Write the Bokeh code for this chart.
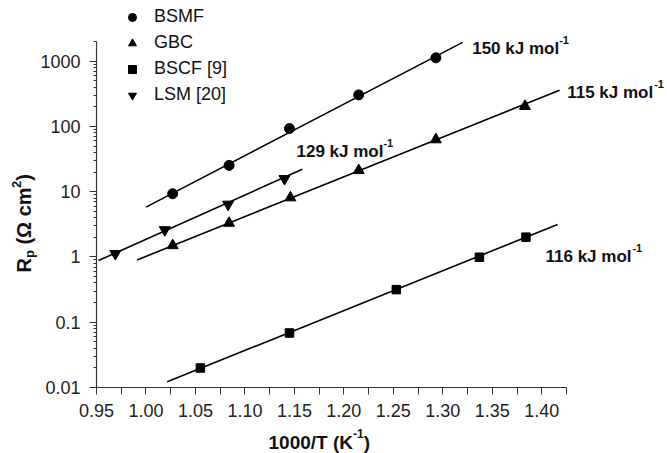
import math
from bokeh.plotting import figure
from bokeh.models import (FixedTicker, PrintfTickFormatter, CustomJSTickFormatter,
                          Label, Legend, LegendItem, Range1d)
from bokeh.embed import file_html
from bokeh.resources import INLINE

# ---------------- data ----------------
bsmf_x = [1.027, 1.084, 1.145, 1.215, 1.293]
bsmf_y = [9.3, 25.3, 92.7, 304, 1124]
gbc_x = [1.027, 1.084, 1.146, 1.215, 1.293, 1.383]
gbc_y = [1.5, 3.3, 8.1, 21.2, 62.8, 204]
bscf_x = [1.055, 1.145, 1.253, 1.337, 1.384]
bscf_y = [0.0199, 0.0684, 0.316, 0.99, 2.01]
lsm_x = [0.969, 1.019, 1.083, 1.140]
lsm_y = [1.12, 2.6, 6.4, 15.8]

# fitted Arrhenius lines (end points)
bsmf_fit_x = [1.000, 1.320]
bsmf_fit_y = [5.8, 1937]
gbc_fit_x = [0.991, 1.418]
gbc_fit_y = [0.90, 359]
bscf_fit_x = [1.0215, 1.416]
bscf_fit_y = [0.01225, 3.15]
lsm_fit_x = [0.952, 1.158]
lsm_fit_y = [0.88, 22]

series_names = ["BSMF", "GBC", "BSCF [9]", "LSM [20]"]
ea_labels = ["150 kJ mol", "115 kJ mol", "116 kJ mol", "129 kJ mol"]

x_ticks = [0.95, 1.00, 1.05, 1.10, 1.15, 1.20, 1.25, 1.30, 1.35, 1.40]
x_minor = [0.975, 1.025, 1.075, 1.125, 1.175, 1.225, 1.275, 1.325, 1.375, 1.425]
y_ticks = [0.01, 0.1, 1, 10, 100, 1000]
y_minor = [m * 10.0 ** k for k in range(-2, 3) for m in range(2, 10)] + [2000]

# axis extents
AX_X0, AX_X1 = 0.95, 1.425
AX_Y0, AX_Y1 = 0.01, 2000

# ---------------- layout ----------------
FONT = "Liberation Sans"
W, H = 667, 453
# pixel box of the drawn axes
LEFT, RIGHT_PX, TOP, BOTTOM_PX = 96, 566, 41, 387
KX = (RIGHT_PX - LEFT) / (AX_X1 - AX_X0)
KY = (BOTTOM_PX - TOP) / (math.log10(AX_Y1) - math.log10(AX_Y0))
SHIFT = 5  # compensation of the baseline placement of rendered labels


def px_x(px):
    return AX_X0 + (px - LEFT) / KX


def px_y(py):
    return 10 ** (math.log10(AX_Y1) - (py - TOP) / KY)


# approximate advance widths (em) for Liberation Sans Bold
WID = {c: 0.556 for c in "0123456789kJc"}
WID.update({" ": 0.278, "m": 0.889, "o": 0.611, "l": 0.278, "-": 0.333, "/": 0.278,
            "T": 0.611, "(": 0.333, ")": 0.333, "K": 0.722, "R": 0.722, "p": 0.611,
            "Ω": 0.768})


def twidth(s, size):
    return sum(WID.get(c, 0.6) for c in s) * size


p = figure(width=W, height=H,
           x_range=Range1d(px_x(0), px_x(W)), y_range=Range1d(px_y(H), px_y(0)),
           y_axis_type="log", output_backend="svg", toolbar_location=None,
           min_border=0)
p.outline_line_color = None
p.xgrid.visible = False
p.ygrid.visible = False
p.background_fill_color = "white"
p.border_fill_color = "white"

AX = "#333333"
for ax in (p.xaxis[0], p.yaxis[0]):
    ax.axis_line_color = AX
    ax.axis_line_width = 1.2
    ax.major_tick_line_color = AX
    ax.minor_tick_line_color = AX
    ax.major_tick_in = 0
    ax.minor_tick_in = 0
    ax.major_label_text_font = FONT
    ax.major_label_text_font_size = "18px"
    ax.major_label_text_color = "#222222"
    ax.axis_label = None

p.xaxis.fixed_location = AX_Y0
p.xaxis.bounds = (AX_X0, AX_X1)
p.xaxis.ticker = FixedTicker(ticks=x_ticks, minor_ticks=x_minor)
p.xaxis.formatter = PrintfTickFormatter(format="%.2f")
p.xaxis.major_tick_out = 7
p.xaxis.minor_tick_out = 7
p.xaxis.major_label_standoff = 9

p.yaxis.fixed_location = AX_X0
p.yaxis.bounds = (AX_Y0, AX_Y1)
p.yaxis.ticker = FixedTicker(ticks=y_ticks, minor_ticks=y_minor)
p.yaxis.formatter = CustomJSTickFormatter(code="return String(tick);")
p.yaxis.major_tick_out = 7
p.yaxis.minor_tick_out = 3
p.yaxis.major_label_standoff = 9

# ---------------- glyphs ----------------
LW = 1.6
for fx, fy in [(bsmf_fit_x, bsmf_fit_y), (gbc_fit_x, gbc_fit_y),
               (bscf_fit_x, bscf_fit_y), (lsm_fit_x, lsm_fit_y)]:
    p.line(fx, fy, line_color="black", line_width=LW)

r_bsmf = p.scatter(bsmf_x, bsmf_y, marker="circle", size=10, color="black")
r_gbc = p.scatter(gbc_x, gbc_y, marker="triangle", size=11, color="black")
r_bscf = p.scatter(bscf_x, bscf_y, marker="square", size=8.5, color="black")
r_lsm = p.scatter(lsm_x, lsm_y, marker="inverted_triangle", size=11, color="black")

legend = Legend(items=[LegendItem(label=n, renderers=[r]) for n, r in
                       zip(series_names, [r_bsmf, r_gbc, r_bscf, r_lsm])],
                location=(122, H - 105), orientation="vertical",
                label_text_font=FONT, label_text_font_size="18px",
                label_text_color="#111111", glyph_width=20, glyph_height=20,
                label_height=20, spacing=5, padding=0, margin=0,
                label_standoff=12, border_line_color=None,
                background_fill_alpha=0)
p.add_layout(legend)


# ---------------- rich text helpers ----------------
def _piece(txt, size, bold, **kw):
    return Label(text=txt, text_font=FONT, text_font_size=f"{size}px",
                 text_font_style="bold" if bold else "normal",
                 text_color="#111111", text_baseline="alphabetic",
                 text_align="left", **kw)


def rich_h(parts, left_px, base_px):
    """horizontal text made of (text, size, bold, raise_px) pieces"""
    x = px_x(left_px)
    y = px_y(base_px - SHIFT)
    off = 0.0
    for txt, size, bold, rise in parts:
        lead = len(txt) - len(txt.lstrip(" "))
        off += lead * WID[" "] * size
        txt = txt.lstrip(" ")
        p.add_layout(_piece(txt, size, bold, x=x, y=y, x_offset=off, y_offset=rise))
        off += twidth(txt, size)


def rich_v(parts, base_px, bottom_px):
    """text rotated 90 deg (reading upward)"""
    x = px_x(base_px - SHIFT)
    y = px_y(bottom_px)
    off = 0.0
    for txt, size, bold, rise in parts:
        lead = len(txt) - len(txt.lstrip(" "))
        off += lead * WID[" "] * size
        txt = txt.lstrip(" ")
        p.add_layout(_piece(txt, size, bold, x=x, y=y, x_offset=-rise, y_offset=off,
                            angle=math.pi / 2))
        off += twidth(txt, size)


# activation energy annotations
ann_pos = [(471.7, 53.3), (566.7, 97.3), (545.0, 261.0), (296.0, 156.0)]
for lab, (lx, ly) in zip(ea_labels, ann_pos):
    rich_h([(lab, 17, True, 0), ("-1", 11, True, 9)], lx, ly)

# axis titles
rich_h([("1000/T (K", 19, True, 0), ("-1", 12, True, 9), (")", 19, True, 0)], 268, 447)
rich_v([("R", 20, True, 0), ("p", 13, True, -5), (" (Ω cm", 20, True, 0),
        ("2", 13, True, 8), (")", 20, True, 0)], 28.5, 272)

open("out.html", "w").write(file_html(p, INLINE))
